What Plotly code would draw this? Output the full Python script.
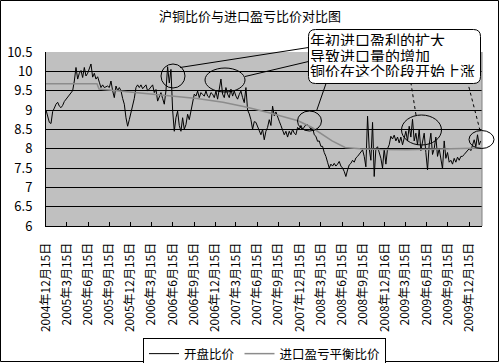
import pandas as pd
import plotly.graph_objects as go

title_text = "沪铜比价与进口盈亏比价对比图"
series_names = ["开盘比价", "进口盈亏平衡比价"]

# 开盘比价 (roughly weekly readings, 2004-12-15 .. 2010-02-04)
open_ratio = [
    9.0, 8.8, 8.68, 8.65, 8.96, 9.05, 9.15, 9.2, 9.1, 9.06,
    9.12, 9.22, 9.28, 9.33, 9.4, 9.45, 9.5, 9.75, 10.1, 9.8,
    9.95, 10.02, 9.84, 10.1, 9.88, 9.95, 10.05, 10.19, 9.85, 9.95,
    9.8, 9.86, 9.72, 9.58, 9.65, 9.58, 9.6, 9.62, 9.58, 9.75,
    9.5, 9.32, 9.62, 9.5, 9.58, 9.5, 9.3, 9.15, 8.8, 8.58,
    8.75, 8.93, 9.1, 9.3, 9.58, 9.65, 9.58, 9.65, 9.55, 9.6,
    9.65, 9.49, 9.55, 9.6, 9.65, 9.45, 9.53, 9.23, 9.36, 9.45,
    9.3, 9.15, 9.5, 10.12, 9.7, 10.05, 9.0, 8.45, 8.8, 8.97,
    8.6, 8.45, 8.8, 8.5, 8.62, 8.89, 8.75, 8.97, 9.15, 9.41,
    9.36, 9.49, 9.32, 9.45, 9.4, 9.36, 9.49, 9.36, 9.32, 9.45,
    9.41, 9.32, 9.49, 9.28, 9.54, 9.8, 9.41, 9.32, 9.58, 9.41,
    9.32, 9.54, 9.36, 9.49, 9.36, 9.28, 9.4, 9.49, 9.32, 9.19,
    9.58, 9.0, 8.9, 8.75, 8.5, 8.7, 8.68, 8.58, 8.5, 8.36,
    8.5, 8.23, 8.45, 8.55, 8.75, 8.6, 9.1, 8.85, 8.95, 8.8,
    8.71, 8.6, 8.45, 8.36, 8.45, 8.3, 8.45, 8.36, 8.5, 8.4,
    8.36, 8.55, 8.5, 8.6, 8.5, 8.58, 8.62, 8.62, 8.58, 8.5,
    8.55, 8.36, 8.32, 8.19, 8.2, 8.06, 8.06, 7.9, 7.8, 7.65,
    7.5, 7.6, 7.55, 7.62, 7.55, 7.6, 7.67, 7.55, 7.5, 7.41,
    7.28, 7.45, 7.58, 7.62, 7.7, 7.65, 7.76, 7.8, 7.85, 7.9,
    7.97, 7.8, 7.53, 8.84, 8.0, 7.7, 8.68, 7.28, 8.0, 8.05,
    7.9, 7.75, 7.5, 8.0, 7.6, 8.0, 8.1, 8.32, 8.25, 8.35,
    8.2, 8.3, 8.15, 8.3, 8.1, 8.25, 8.45, 8.2, 8.58, 8.3,
    8.76, 8.2, 8.4, 8.1, 8.5, 7.95, 8.2, 8.4, 7.9, 7.45,
    8.1, 8.4, 7.85, 8.0, 8.3, 7.8, 8.0, 7.7, 7.48, 8.2,
    7.75, 7.9, 7.65, 7.7, 7.6, 7.75, 7.65, 7.78, 7.7, 7.8,
    7.8, 7.85, 7.9, 7.95, 8.0, 7.95, 8.1, 8.23, 8.05, 8.36,
    8.1, 8.2,
]
open_start = "2004-12-15"
open_end = "2010-02-04"

# 进口盈亏平衡比价
breakeven_dates = [
    "2004-12-15", "2005-07-23", "2005-08-01", "2006-01-08", "2006-04-08",
    "2006-09-28", "2007-01-18", "2007-05-02", "2007-08-09", "2007-10-13",
    "2007-12-08", "2008-02-02", "2008-03-20", "2008-05-03", "2008-06-28",
    "2008-09-01", "2008-11-26", "2009-03-22", "2009-08-12", "2010-02-08",
]
breakeven_vals = [
    9.68, 9.68, 9.54, 9.45, 9.41,
    9.3, 9.2, 9.07, 8.92, 8.82,
    8.72, 8.56, 8.38, 8.2, 8.03,
    8.0, 7.98, 7.97, 7.99, 8.02,
]

x_tick_dates = [
    "2004-12-15", "2005-03-15", "2005-06-15", "2005-09-15", "2005-12-15",
    "2006-03-15", "2006-06-15", "2006-09-15", "2006-12-15", "2007-03-15",
    "2007-06-15", "2007-09-15", "2007-12-15", "2008-03-15", "2008-06-15",
    "2008-09-15", "2008-12-16", "2009-03-15", "2009-06-15", "2009-09-15",
    "2009-12-15",
]
x_tick_labels = [
    "2004年12月15日", "2005年3月15日", "2005年6月15日", "2005年9月15日", "2005年12月15日",
    "2006年3月15日", "2006年6月15日", "2006年9月15日", "2006年12月15日", "2007年3月15日",
    "2007年6月15日", "2007年9月15日", "2007年12月15日", "2008年3月15日", "2008年6月15日",
    "2008年9月15日", "2008年12月16日", "2009年3月15日", "2009年6月15日", "2009年9月15日",
    "2009年12月15日",
]
y_ticks = [6, 6.5, 7, 7.5, 8, 8.5, 9, 9.5, 10, 10.5]
y_tick_labels = ["6", "6.5", "7", "7.5", "8", "8.5", "9", "9.5", "10", "10.5"]

callout_lines = ["年初进口盈利的扩大", "导致进口量的增加", "铜价在这个阶段开始上涨"]

# ---------------- figure ----------------
W, H = 500, 363
L, R, T, B = 46, 18, 52, 137
PW, PH = W - L - R, H - T - B


def px(x):
    return (x - L) / PW


def py(y):
    return (T + PH - y) / PH


FONT = "Noto Sans CJK SC, Noto Sans, sans-serif"

open_dates = pd.date_range(open_start, open_end, periods=len(open_ratio))

fig = go.Figure()
fig.add_trace(go.Scatter(
    x=open_dates, y=open_ratio, mode="lines", name=series_names[0],
    line=dict(color="#000000", width=1),
))
fig.add_trace(go.Scatter(
    x=pd.to_datetime(breakeven_dates), y=breakeven_vals, mode="lines",
    name=series_names[1], line=dict(color="#8c8c8c", width=1.5),
))

shapes = []
# outer chart border
shapes.append(dict(type="rect", xref="paper", yref="paper",
                   x0=px(0.5), x1=px(498.5), y0=py(0.5), y1=py(361.5),
                   line=dict(color="#000000", width=1), layer="below"))
# right plot border
shapes.append(dict(type="line", xref="paper", yref="paper",
                   x0=1, x1=1, y0=0, y1=1, line=dict(color="#808080", width=1)))

# ellipses (cx, cy, rx, ry) in pixels
ellipses = [(173, 76, 12, 12), (225, 80, 20, 12), (309.5, 121, 12, 10),
            (421.5, 130, 20, 15), (481.5, 139.5, 12.5, 9)]
for cx, cy, rx, ry in ellipses:
    shapes.append(dict(type="circle", xref="paper", yref="paper",
                       x0=px(cx - rx), x1=px(cx + rx), y0=py(cy + ry), y1=py(cy - ry),
                       line=dict(color="#000000", width=1), layer="above"))

# connector lines
connectors = [((180, 67.5), (308.5, 47.5), "solid"),
              ((245, 76.5), (308.5, 61.5), "solid"),
              ((316.5, 111), (326, 83.5), "solid"),
              ((416, 115), (411, 83.5), "dot"),
              ((480, 130.5), (468, 83.5), "dot")]
for (x0, y0), (x1, y1), dash in connectors:
    shapes.append(dict(type="line", xref="paper", yref="paper",
                       x0=px(x0), y0=py(y0), x1=px(x1), y1=py(y1),
                       line=dict(color="#000000", width=1, dash=dash), layer="above"))

# rounded callout box
bx0, by0, bx1, by1, r = 308.5, 29.5, 480.5, 83.5, 7


def P(x, y):
    return f"{px(x):.5f},{py(y):.5f}"


path = (f"M {P(bx0 + r, by0)} L {P(bx1 - r, by0)} Q {P(bx1, by0)} {P(bx1, by0 + r)} "
        f"L {P(bx1, by1 - r)} Q {P(bx1, by1)} {P(bx1 - r, by1)} "
        f"L {P(bx0 + r, by1)} Q {P(bx0, by1)} {P(bx0, by1 - r)} "
        f"L {P(bx0, by0 + r)} Q {P(bx0, by0)} {P(bx0 + r, by0)} Z")
shapes.append(dict(type="path", xref="paper", yref="paper", path=path,
                   fillcolor="#ffffff", line=dict(color="#000000", width=1), layer="above"))

annotations = []
for i, (txt, yc) in enumerate(zip(callout_lines, [39.5, 54.5, 70])):
    annotations.append(dict(
        xref="paper", yref="paper", x=px(308.5), y=py(yc), xanchor="left", yanchor="middle",
        text=txt, showarrow=False, height=14, borderpad=0,
        font=dict(family=FONT, size=15, color="#000000"),
    ))

fig.update_layout(
    width=W, height=H,
    margin=dict(l=L, r=R, t=T, b=B, pad=0, autoexpand=False),
    paper_bgcolor="#ffffff",
    plot_bgcolor="#c0c0c0",
    font=dict(family=FONT, color="#000000", size=12),
    title=dict(text=title_text, x=0.5, xanchor="center", y=1 - 16 / H, yanchor="middle",
               yref="container", font=dict(family=FONT, size=13, color="#000000")),
    showlegend=True,
    legend=dict(orientation="h", x=px(264.5), xanchor="center", y=py(338), yanchor="top",
                bgcolor="#ffffff", bordercolor="#000000", borderwidth=1,
                font=dict(family=FONT, size=12.5, color="#000000"), itemwidth=30,
                tracegroupgap=0),
    xaxis=dict(
        type="date", automargin=False,
        range=["2004-12-15", "2010-02-09"],
        tickmode="array", tickvals=x_tick_dates, ticktext=x_tick_labels,
        tickangle=-90, ticks="inside", ticklen=4, tickcolor="#000000",
        showgrid=False, showline=True, linecolor="#000000", linewidth=1,
        tickfont=dict(family=FONT, size=12, color="#000000"),
        ticklabelstandoff=11,
    ),
    yaxis=dict(
        automargin=False,
        range=[6, 10.5],
        tickmode="array", tickvals=y_ticks, ticktext=y_tick_labels,
        showgrid=True, gridcolor="#000000", gridwidth=1,
        showline=True, linecolor="#000000", linewidth=1,
        ticks="", zeroline=False,
        tickfont=dict(family=FONT, size=13, color="#000000"),
        ticklabelstandoff=10,
    ),
    shapes=shapes,
    annotations=annotations,
)

fig.write_html(
    "out.html",
    config={"displayModeBar": False},
    post_script="document.body.style.margin='0';document.body.style.padding='0';"
                "document.body.style.overflow='hidden';",
)
